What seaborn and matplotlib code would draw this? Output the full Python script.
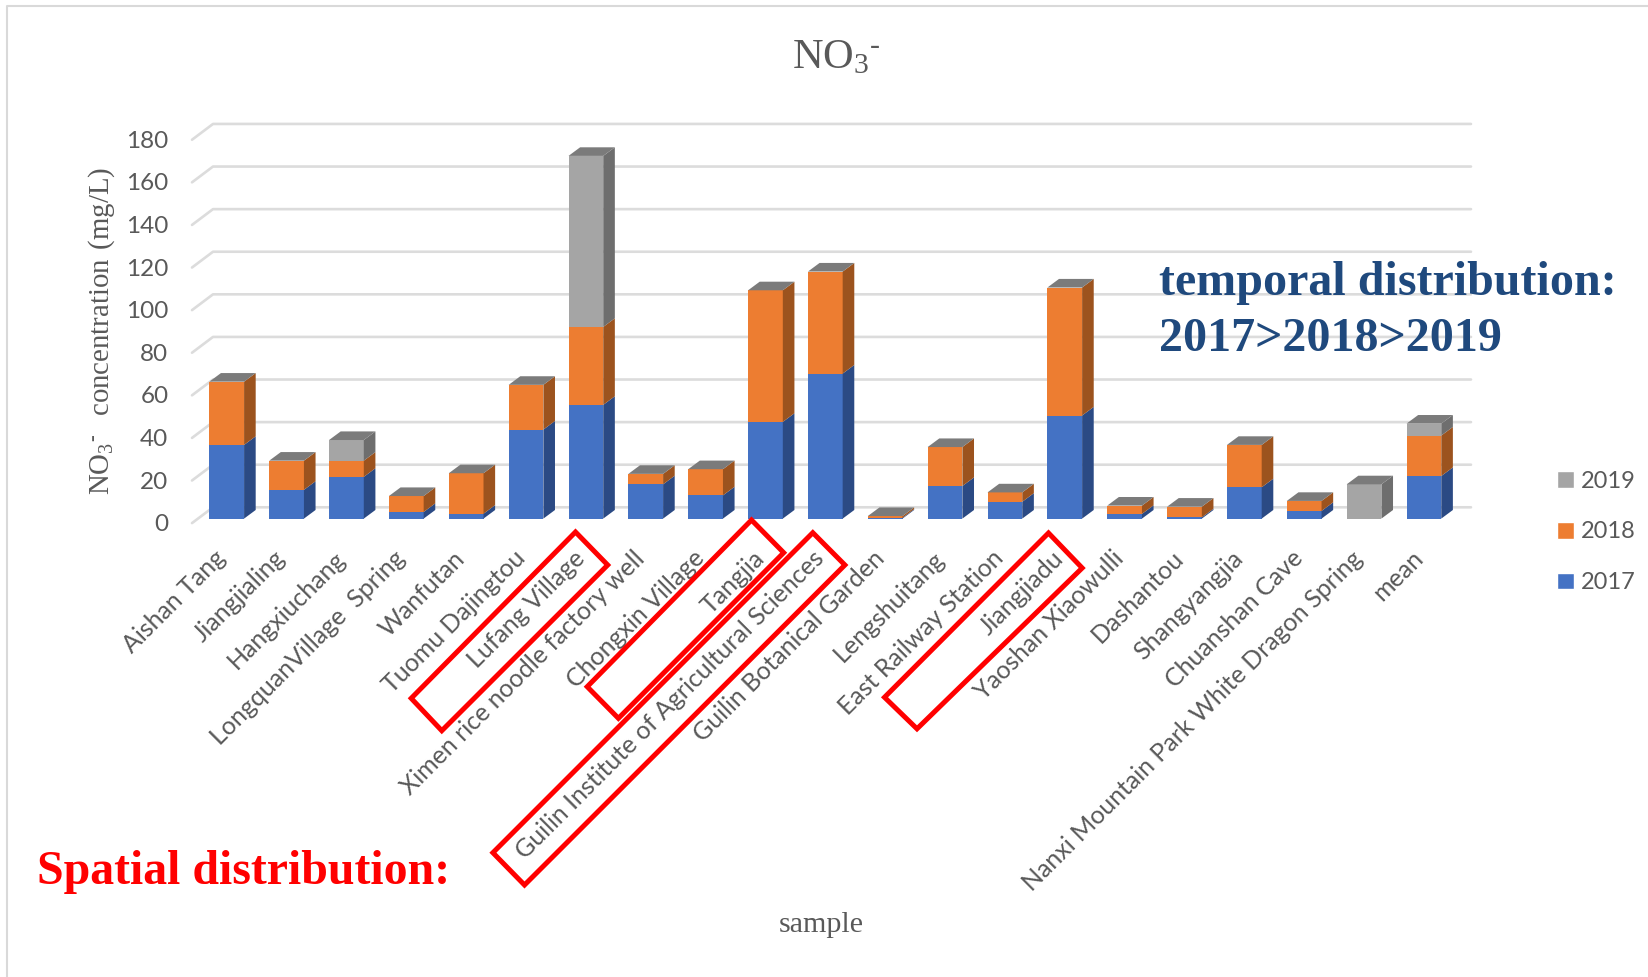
import matplotlib
matplotlib.use("Agg")
import matplotlib.pyplot as plt
import seaborn as sns
from matplotlib.lines import Line2D
from matplotlib.patches import Patch, Polygon
from matplotlib.transforms import Affine2D, ScaledTranslation

sites = ["Aishan Tang", "Jiangjialing", "Hangxiuchang", "LongquanVillage  Spring", "Wanfutan",
         "Tuomu Dajingtou", "Lufang Village", "Ximen rice noodle factory well", "Chongxin Village",
         "Tangjia", "Guilin Institute of Agricultural Sciences", "Guilin Botanical Garden",
         "Lengshuitang", "East Railway Station", "Jiangjiadu", "Yaoshan Xiaowulli", "Dashantou",
         "Shangyangjia", "Chuanshan Cave", "Nanxi Mountain Park White Dragon Spring", "mean"]
no3_2017 = [34.6, 13.5, 19.6, 3.1, 2.3, 41.8, 53.4, 16.1, 10.9, 45.4, 68.1, 0.4, 15.3, 7.9, 48.4,
            2.2, 0.6, 14.7, 3.6, 0, 20.0]
no3_2018 = [29.7, 13.7, 7.6, 7.5, 19.0, 21.0, 36.6, 4.9, 12.3, 61.8, 47.9, 0.8, 18.3, 4.4, 60.1,
            3.9, 5.0, 19.9, 4.7, 0, 19.0]
no3_2019 = [0, 0, 9.7, 0, 0, 0, 80.3, 0, 0, 0, 0, 0, 0, 0, 0, 0, 0, 0, 0, 16.1, 5.6]
y_ticks = [0, 20, 40, 60, 80, 100, 120, 140, 160, 180]
years = ["2017", "2018", "2019"]
front_colors = ["#4472C4", "#ED7D31", "#A5A5A5"]
side_colors = ["#2B4A84", "#9C531E", "#6E6E6E"]
top_color = "#7B7B7B"
text_grey = "#595959"
W, H = 1649, 977

sns.set_theme(style="white")
plt.rcParams["font.family"] = ["Lato", "DejaVu Sans"]
plt.rcParams["mathtext.fontset"] = "custom"
plt.rcParams["mathtext.rm"] = "Liberation Serif"
plt.rcParams["mathtext.default"] = "rm"

fig = plt.figure(figsize=(W / 100, H / 100), dpi=100, facecolor="white")
ax = fig.add_axes([192 / W, 1 - 518.6 / H, (1470 - 192) / W, 394 / H])
px = Affine2D().scale(1 / W, -1 / H).translate(0, 1) + fig.transFigure

# Stacked front faces
bar_w = 0.58
base = [0.0] * len(sites)
bottoms = []
for values, color in zip([no3_2017, no3_2018, no3_2019], front_colors):
    bottoms.append(list(base))
    sns.barplot(x=sites, y=values, bottom=base, color=color, saturation=1, width=bar_w, ax=ax,
                zorder=3, linewidth=0)
    base = [b + v for b, v in zip(base, values)]

ax.set_xlim(-0.58, 20.77)
ax.set_ylim(0, 185)

# Extruded side and top faces of each column
dx, dy = 0.194, 4.04
for idx in range(len(sites)):
    xr = idx + bar_w / 2
    for low, values, color in zip(bottoms, [no3_2017, no3_2018, no3_2019], side_colors):
        y0, y1 = low[idx], low[idx] + values[idx]
        if values[idx] > 0:
            ax.add_patch(Polygon([(xr, y0), (xr + dx, y0 + dy), (xr + dx, y1 + dy), (xr, y1)],
                                 fc=color, ec="none", zorder=3, clip_on=False))
    ax.add_patch(Polygon([(xr - bar_w, base[idx]), (xr, base[idx]), (xr + dx, base[idx] + dy),
                          (xr - bar_w + dx, base[idx] + dy)], fc=top_color, ec="none", zorder=3,
                         clip_on=False))

# Back wall lines with short slanted floor segments
to_px = ax.transData
for tick in y_ticks:
    _, yp = to_px.transform((0, tick))
    yp = H - yp
    fig.add_artist(Line2D([192, 213, 1471], [yp + 4.5, yp - 11.3, yp - 11.3], transform=px,
                          color="#DCDCDC", lw=1.9, zorder=0))
ax.patch.set_alpha(0)
sns.despine(ax=ax, left=True, bottom=True)

ax.set_yticks(y_ticks)
ax.set_yticklabels([str(t) for t in y_ticks], fontsize=17.5, color=text_grey)
ax.tick_params(axis="y", length=0, pad=17)
ax.tick_params(axis="x", length=0, pad=20)
y_shift = ScaledTranslation(0, -4 / 100, fig.dpi_scale_trans)
for lab in ax.get_yticklabels():
    lab.set_transform(lab.get_transform() + y_shift)
ax.set_xticks(range(len(sites)))
ax.set_xticklabels(sites, rotation=45, ha="right", rotation_mode="anchor", fontsize=18, color=text_grey)
x_shift = ScaledTranslation(-13 / 100, 0, fig.dpi_scale_trans)
for lab in ax.get_xticklabels():
    lab.set_transform(lab.get_transform() + x_shift)
ax.set_xlabel("")
ax.set_ylabel("")

fig.text(836, 57, "$\\mathrm{NO_3{}^{\u2010}}$", transform=px, fontsize=30.5, color=text_grey, ha="center", va="center")
fig.text(102, 331, "$\\mathrm{NO_3{}^{\u2010}}\\ \\ \\mathrm{concentration\\ (mg/L)}$", transform=px, fontsize=20.8,
         color=text_grey, rotation=90, ha="center", va="center")
fig.text(821, 925, "sample", transform=px, fontsize=21.6, color=text_grey, ha="center", va="center",
         family="Liberation Serif")

handles = [Patch(fc=c, label=y) for c, y in zip(front_colors[::-1], years[::-1])]
fig.legend(handles=handles, loc="center left", bbox_to_anchor=(1557 / W, 1 - 532 / H), frameon=False,
           fontsize=17, labelcolor=text_grey, handlelength=0.7, handleheight=0.7, handletextpad=0.3,
           labelspacing=1.27, borderpad=0, borderaxespad=0)

serif_bold = dict(family="Liberation Serif", weight="bold", transform=px, va="center", ha="left")
fig.text(1159, 283, "temporal distribution:", fontsize=34.6, color="#1F497D", **serif_bold)
fig.text(1159, 339, "2017>2018>2019", fontsize=34.6, color="#1F497D", **serif_bold)
fig.text(37, 872, "Spatial distribution:", fontsize=34.5, color="#FF0000", **serif_bold)


def highlight(*corners):
    fig.add_artist(Polygon(corners, closed=True, transform=px, fc="none", ec="#FF0000", lw=3.6,
                           joinstyle="miter", zorder=5))


highlight((575.5, 532), (607.7, 565), (441.8, 730.7), (411.2, 698.3))
highlight((751.5, 520), (783.7, 552.7), (618.4, 718.3), (587.2, 686.7))
highlight((812.8, 532.7), (844.9, 565), (524.5, 885), (492.9, 852.7))
highlight((1048.5, 533), (1082.2, 568), (917, 728.8), (884.5, 697.3))

# Thin page frame
fig.add_artist(Line2D([7, 7, 1649], [977, 6, 6], transform=px, color="#D9D9D9", lw=1.5))

fig.savefig("out.png", dpi=100)
